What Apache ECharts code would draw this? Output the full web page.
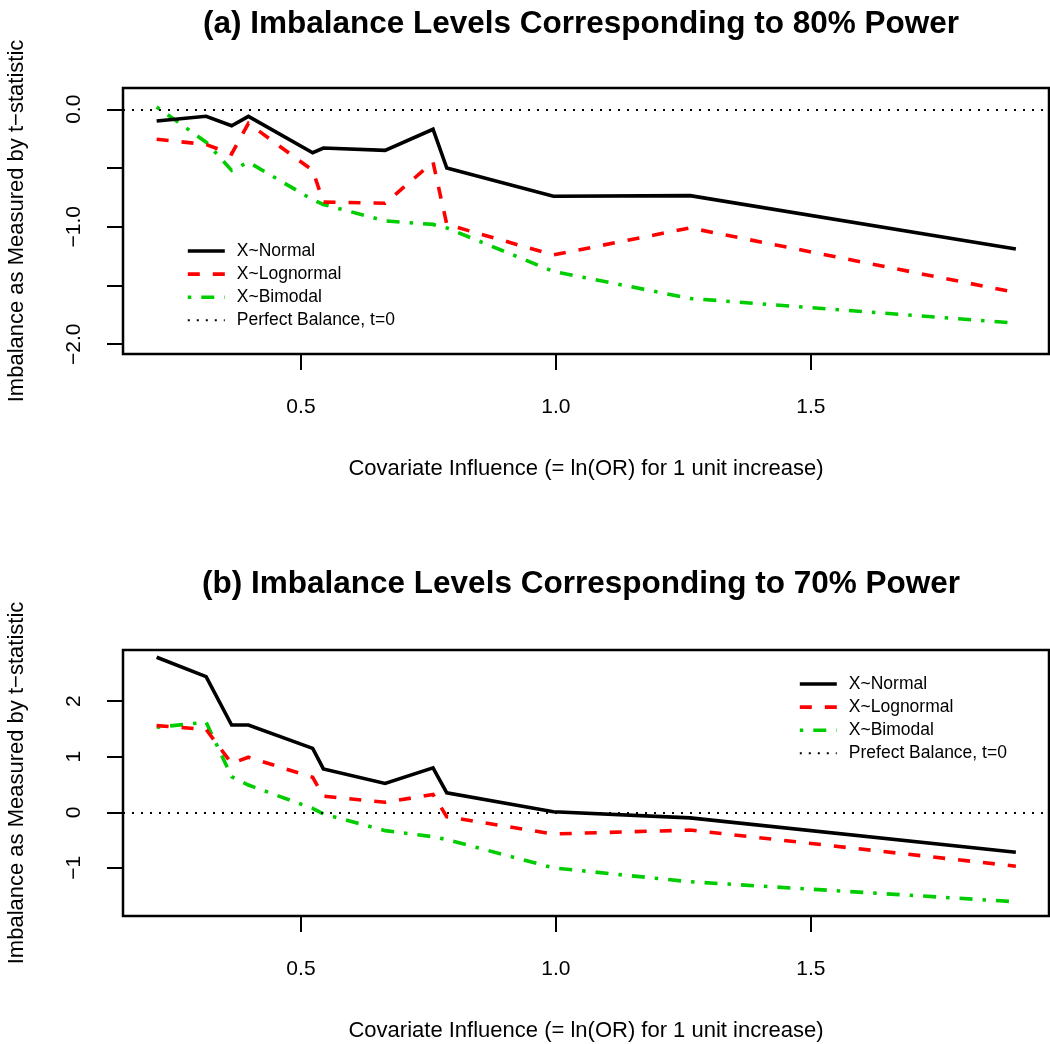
<!DOCTYPE html>
<html>
<head>
<meta charset="utf-8">
<script src="https://cdn.jsdelivr.net/npm/echarts@6/dist/echarts.min.js"></script>
<style>
html,body{margin:0;padding:0;background:#fff;}
#chart{width:1050px;height:1044px;}
</style>
</head>
<body>
<div id="chart"></div>
<script>
// ---- data ----
const xValues = [0.217, 0.314, 0.364, 0.397, 0.523, 0.544, 0.665, 0.759, 0.786, 0.995, 1.263, 1.902];

const topNormal    = [-0.10, -0.06, -0.14, -0.06, -0.37, -0.33, -0.35, -0.17, -0.50, -0.74, -0.735, -1.19];
const topLognormal = [-0.255, -0.30, -0.38, -0.12, -0.52, -0.79, -0.80, -0.45, -0.98, -1.24, -1.01, -1.56];
const topBimodal   = [0.02, -0.28, -0.52, -0.45, -0.77, -0.81, -0.95, -0.98, -1.01, -1.38, -1.61, -1.82];

const botNormal    = [2.79, 2.44, 1.57, 1.57, 1.15, 0.78, 0.52, 0.80, 0.35, 0.01, -0.10, -0.72];
const botLognormal = [1.56, 1.49, 0.88, 0.99, 0.63, 0.29, 0.18, 0.32, -0.08, -0.39, -0.32, -0.97];
const botBimodal   = [1.53, 1.62, 0.64, 0.49, 0.07, -0.03, -0.33, -0.44, -0.49, -1.00, -1.25, -1.61];

const xTicks = [0.5, 1.0, 1.5];
const topYTicks = [-2, -1.5, -1, -0.5, 0];
const topYLabels = [-2, -1, 0];
const botYTicks = [-1, 0, 1, 2];

const titleA = '(a) Imbalance Levels Corresponding to 80% Power';
const titleB = '(b) Imbalance Levels Corresponding to 70% Power';
const xName = 'Covariate Influence (= ln(OR) for 1 unit increase)';
const yName = 'Imbalance as Measured by t\u2212statistic';
const seriesNames = ['X~Normal', 'X~Lognormal', 'X~Bimodal'];
const refNameA = 'Perfect Balance, t=0';
const refNameB = 'Prefect Balance, t=0';

// ---- helpers ----
const FONT = '"Liberation Sans", Arial, sans-serif';
function pairs(xs, ys) { return xs.map((x, i) => [x, ys[i]]); }
function fmt(v, d) { return (v < 0 ? '\u2212' : '') + Math.abs(v).toFixed(d); }

const styles = [
  { color: '#000000', width: 3.6, type: 'solid' },
  { color: '#ff0000', width: 3.6, type: [12, 13] },
  { color: '#00cd00', width: 3.6, type: [3.5, 10, 13, 10] }
];
const refStyle = { color: '#000000', width: 2, type: [2, 7] };

const gridTops = [88, 650];
const gridH = 266;

function xAxisFor(i) {
  return {
    type: 'value', gridIndex: i, min: 0.151, max: 1.967,
    splitLine: { show: false },
    axisLine: { show: false, onZero: false },
    axisTick: { show: true, customValues: xTicks, length: 16, lineStyle: { color: '#000', width: 2 } },
    axisLabel: { customValues: xTicks, formatter: v => fmt(v, 1), fontSize: 21, color: '#000', fontFamily: FONT, margin: 43 },
    name: xName, nameLocation: 'middle', nameGap: 104,
    nameTextStyle: { fontSize: 22, color: '#000', fontFamily: FONT }
  };
}

function yAxisFor(i, min, max, ticks, labels, dec) {
  return {
    type: 'value', gridIndex: i, min: min, max: max,
    splitLine: { show: false },
    axisLine: { show: false, onZero: false },
    axisTick: { show: true, customValues: ticks, length: 16, lineStyle: { color: '#000', width: 2 } },
    axisLabel: { customValues: labels, rotate: 90, formatter: v => fmt(v, dec), fontSize: 21, color: '#000', fontFamily: FONT, margin: 38 },
    name: yName, nameLocation: 'middle', nameGap: 95,
    nameTextStyle: { fontSize: 22, color: '#000', fontFamily: FONT }
  };
}

function dataSeries(gi, arrs) {
  return arrs.map((ys, k) => ({
    type: 'line', name: seriesNames[k], xAxisIndex: gi, yAxisIndex: gi,
    data: pairs(xValues, ys), symbol: 'none', showSymbol: false,
    lineStyle: { color: styles[k].color, width: styles[k].width, type: styles[k].type, cap: 'butt', join: 'miter' },
    itemStyle: { color: styles[k].color },
    z: 3 - k + 2
  }));
}

function refSeries(gi, name) {
  return {
    type: 'line', name: name, xAxisIndex: gi, yAxisIndex: gi, data: [],
    symbol: 'none', showSymbol: false,
    lineStyle: refStyle, itemStyle: { color: '#000' },
    markLine: {
      silent: true, symbol: 'none', label: { show: false },
      lineStyle: refStyle, animation: false,
      data: [{ yAxis: 0 }]
    }
  };
}

const hidden = 'rgba(0,0,0,0)';
function legendFor(left, top, refName) {
  const items = seriesNames.map((n, k) => ({
    name: n,
    lineStyle: { color: styles[k].color, width: styles[k].width, type: styles[k].type, cap: 'butt' },
    itemStyle: { color: hidden, borderColor: hidden, borderWidth: 0, opacity: 0 }
  }));
  items.push({
    name: refName,
    lineStyle: { color: refStyle.color, width: refStyle.width, type: refStyle.type },
    itemStyle: { color: hidden, borderColor: hidden, borderWidth: 0, opacity: 0 }
  });
  return {
    orient: 'vertical', left: left, top: top, data: items,
    itemWidth: 37, itemHeight: 20, itemGap: 5.1,
    selectedMode: false,
    textStyle: { fontSize: 17.5, color: '#000', fontFamily: FONT, padding: [0, 0, 0, 7] }
  };
}

const chart = echarts.init(document.getElementById('chart'), null, { renderer: 'canvas' });
chart.setOption({
  animation: false,
  backgroundColor: '#fff',
  textStyle: { fontFamily: FONT },
  grid: gridTops.map(t => ({
    left: 123, right: 1, top: t, height: gridH,
    containLabel: false, outerBoundsMode: 'none',
    show: true, borderColor: '#000', borderWidth: 2.5, backgroundColor: 'transparent'
  })),
  xAxis: [xAxisFor(0), xAxisFor(1)],
  yAxis: [
    yAxisFor(0, -2.083, 0.181, topYTicks, topYLabels, 1),
    yAxisFor(1, -1.866, 2.92, botYTicks, botYTicks, 0)
  ],
  legend: [
    legendFor(181, 237, refNameA),
    legendFor(793, 670, refNameB)
  ],
  graphic: [
    { type: 'text', x: 581, y: 24, style: { text: titleA, textAlign: 'center', textVerticalAlign: 'middle', font: 'bold 31.5px ' + FONT, fill: '#000' } },
    { type: 'text', x: 581, y: 584, style: { text: titleB, textAlign: 'center', textVerticalAlign: 'middle', font: 'bold 31.5px ' + FONT, fill: '#000' } }
  ],
  series: []
    .concat(dataSeries(0, [topNormal, topLognormal, topBimodal]))
    .concat([refSeries(0, refNameA)])
    .concat(dataSeries(1, [botNormal, botLognormal, botBimodal]))
    .concat([refSeries(1, refNameB)])
});
</script>
</body>
</html>
